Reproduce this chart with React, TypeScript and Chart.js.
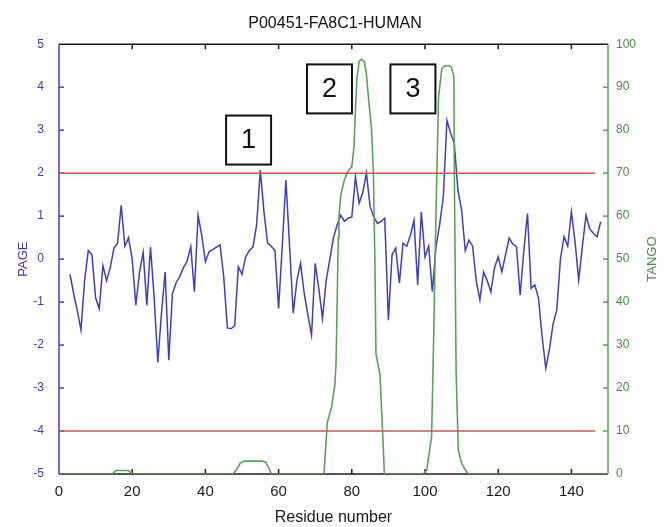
import React, { useEffect, useRef } from "react";
import { Chart, registerables } from "chart.js";

Chart.register(...registerables);

// ---------- data ----------
const chartTitle = "P00451-FA8C1-HUMAN";
const xAxisTitle = "Residue number";
const leftAxisTitle = "PAGE";
const rightAxisTitle = "TANGO";

const pageResidues = [
  3, 4, 5, 6, 7, 8, 9, 10, 11, 12, 13, 14, 15, 16, 17, 18, 19, 20, 21, 22,
  23, 24, 25, 26, 27, 28, 29, 30, 31, 32, 33, 34, 35, 36, 37, 38, 39, 40, 41, 42,
  43, 44, 45, 46, 47, 48, 49, 50, 51, 52, 53, 54, 55, 56, 57, 58, 59, 60, 61, 62,
  63, 64, 65, 66, 67, 68, 69, 70, 71, 72, 73, 74, 75, 76, 77, 78, 79, 80, 81, 82,
  83, 84, 85, 86, 87, 88, 89, 90, 91, 92, 93, 94, 95, 96, 97, 98, 99, 100, 101, 102,
  103, 104, 105, 106, 107, 108, 109, 110, 111, 112, 113, 114, 115, 116, 117, 118, 119, 120, 121, 122,
  123, 124, 125, 126, 127, 128, 129, 130, 131, 132, 133, 134, 135, 136, 137, 138, 139, 140, 141, 142,
  143, 144, 145, 146, 147, 148,
];
const pageValues = [
  -0.35, -0.8, -1.2, -1.65, -0.5, 0.2, 0.1, -0.9, -1.15, -0.15, -0.5, -0.2, 0.25, 0.37, 1.25, 0.3, 0.5, 0.0, -1.07, -0.3,
  0.16, -1.07, 0.28, -0.9, -2.4, -1.26, -0.3, -2.35, -0.8, -0.55, -0.4, -0.2, -0.05, 0.29, -0.76, 1.02, 0.55, -0.06, 0.17, 0.22,
  0.28, 0.33, -0.4, -1.6, -1.62, -1.55, -0.18, -0.35, 0.05, 0.2, 0.28, 0.8, 2.07, 1.1, 0.37, 0.3, 0.2, -1.15, 0.3, 1.84,
  0.3, -1.26, -0.5, -0.1, -0.8, -1.3, -1.77, -0.1, -0.7, -1.38, -0.5, 0.0, 0.5, 0.8, 1.02, 0.88, 0.95, 0.98, 1.91, 1.3,
  1.55, 2.0, 1.22, 0.98, 0.83, 0.88, 0.95, -1.42, 0.1, 0.26, -0.56, 0.37, 0.3, 0.55, 0.9, -0.6, 1.1, 0.05, 0.3, -0.76,
  0.29, 0.8, 1.45, 3.23, 2.93, 2.7, 1.6, 1.14, 0.2, 0.44, 0.3, -0.5, -0.95, -0.3, -0.5, -0.76, -0.2, 0.05, -0.3, 0.1,
  0.49, 0.35, 0.29, -0.84, 0.2, 1.06, -0.68, -0.6, -0.9, -1.8, -2.54, -2.1, -1.5, -1.19, 0.0, 0.52, 0.3, 1.1, 0.4, -0.49,
  0.3, 1.02, 0.7, 0.6, 0.52, 0.87,
];

const tangoResidues = [
  0, 14.5, 15.5, 19, 20,
  47.5, 48.5, 49.5, 50.5, 55.5, 56.5, 57.3, 58,
  72.4, 73.3, 74.5, 75.4, 75.7, 76, 76.3, 76.5, 77, 78,
  79, 80, 80.6, 81, 81.4, 82, 82.6, 83.4, 84, 84.5,
  85.4, 85.9, 86.3, 86.6, 87.7, 88.4, 88.9,
  99.5, 100.5, 101.8, 102.3, 102.8, 103.2, 103.7, 104.6, 105.5, 106.5,
  107.2, 107.9, 108, 108.2, 108.5, 109.1, 110, 111, 111.8, 150,
];
const tangoValues = [
  0, 0, 0.8, 0.8, 0,
  0, 1, 2.5, 3, 3, 2.7, 1.5, 0,
  0, 12, 15.6, 21, 26, 40, 55, 60, 65, 68.5,
  70.5, 71.5, 76, 85, 92, 96, 96.5, 96, 93, 88,
  80, 70, 50, 28, 23, 10, 0,
  0, 1, 8.7, 28.8, 52, 68.4, 87.7, 94.3, 95, 95,
  94.7, 92.4, 72, 52, 24, 5.6, 2.5, 1, 0, 0,
];

const thresholdValues = [2, -4];
const thresholdResidues = [0, 146.5];

const regionLabels = ["1", "2", "3"];
const regionLabelResidues = [51.8, 73.9, 96.7];
const regionLabelPage = [2.77, 3.96, 3.96];

// ---------- styles ----------
const FONT = "'Liberation Sans', Arial, Helvetica, sans-serif";
const BLUE = "rgb(62,62,196)";
const BLUE_TEXT = "rgb(60,60,185)";
const GREEN = "rgb(86,164,86)";
const GREEN_TEXT = "rgb(70,145,70)";
const RED = "rgb(214,86,76)";
const BLACK = "#1a1a1a";

const overlayPlugin = {
  id: "matlabOverlay",
  beforeDatasetsDraw(chart: any) {
    const { ctx, chartArea, scales } = chart;
    const { left, right, top, bottom } = chartArea;
    const tick = 5;
    ctx.save();
    ctx.lineWidth = 1.5;
    const seg = (x1: number, y1: number, x2: number, y2: number) => {
      ctx.beginPath();
      ctx.moveTo(x1, y1);
      ctx.lineTo(x2, y2);
      ctx.stroke();
    };
    // top & bottom (black) with inward ticks
    ctx.strokeStyle = BLACK;
    seg(left, top, right, top);
    seg(left, bottom, right, bottom);
    scales.x.ticks.forEach((t: any) => {
      const px = scales.x.getPixelForValue(t.value);
      if (px <= left + 1 || px >= right - 1) return;
      seg(px, bottom, px, bottom - tick);
      seg(px, top, px, top + tick);
    });
    // left (blue)
    ctx.strokeStyle = BLUE;
    seg(left, top, left, bottom);
    scales.y.ticks.forEach((t: any) => {
      const py = scales.y.getPixelForValue(t.value);
      if (py <= top + 1 || py >= bottom - 1) return;
      seg(left, py, left + tick, py);
    });
    // right (green)
    ctx.strokeStyle = GREEN;
    seg(right, top, right, bottom);
    scales.y1.ticks.forEach((t: any) => {
      const py = scales.y1.getPixelForValue(t.value);
      if (py <= top + 1 || py >= bottom - 1) return;
      seg(right, py, right - tick, py);
    });
    ctx.restore();
  },
  afterDatasetsDraw(chart: any) {
    const { ctx, scales } = chart;
    ctx.save();
    // region boxes
    const w = 45;
    const h = 49;
    regionLabels.forEach((label, i) => {
      const cx = scales.x.getPixelForValue(regionLabelResidues[i]);
      const cy = scales.y.getPixelForValue(regionLabelPage[i]);
      ctx.fillStyle = "#ffffff";
      ctx.fillRect(cx - w / 2, cy - h / 2, w, h);
      ctx.lineWidth = 2;
      ctx.strokeStyle = "#111111";
      ctx.strokeRect(cx - w / 2, cy - h / 2, w, h);
      ctx.fillStyle = "#111111";
      ctx.font = `27px ${FONT}`;
      ctx.textAlign = "center";
      ctx.textBaseline = "middle";
      ctx.fillText(label, cx, cy + 1);
    });
    // right axis title, reading bottom-to-top
    const area = chart.chartArea;
    ctx.translate(652, (area.top + area.bottom) / 2);
    ctx.rotate(-Math.PI / 2);
    ctx.fillStyle = GREEN_TEXT;
    ctx.font = `13px ${FONT}`;
    ctx.textAlign = "center";
    ctx.textBaseline = "middle";
    ctx.fillText(rightAxisTitle, 0, 0);
    ctx.restore();
  },
};

export default function App() {
  const canvasRef = useRef<HTMLCanvasElement | null>(null);

  useEffect(() => {
    const canvas = canvasRef.current;
    if (!canvas) return;

    const pagePoints = pageResidues.map((r, i) => ({ x: r, y: pageValues[i] }));
    const tangoPoints = tangoResidues.map((r, i) => ({ x: r, y: tangoValues[i] }));
    const thresholdSets = thresholdValues.map((v) => ({
      label: `threshold ${v}`,
      data: thresholdResidues.map((r) => ({ x: r, y: v })),
      yAxisID: "y",
      borderColor: RED,
      borderWidth: 1.5,
      pointRadius: 0,
      fill: false,
    }));

    const chart = new Chart(canvas, {
      type: "line",
      data: {
        datasets: [
          ...thresholdSets,
          {
            label: "TANGO",
            data: tangoPoints,
            yAxisID: "y1",
            borderColor: GREEN,
            borderWidth: 1.6,
            pointRadius: 0,
            tension: 0,
            fill: false,
          },
          {
            label: "PAGE",
            data: pagePoints,
            yAxisID: "y",
            borderColor: BLUE,
            borderWidth: 1.5,
            pointRadius: 0,
            tension: 0,
            fill: false,
          },
        ] as any,
      },
      options: {
        responsive: false,
        animation: false,
        parsing: false as any,
        layout: { padding: 0 },
        plugins: {
          legend: { display: false },
          tooltip: { enabled: false },
          title: {
            display: true,
            text: chartTitle,
            color: "#111111",
            font: { family: FONT, size: 16, weight: "normal" as any },
            padding: { top: 14, bottom: 11 },
          },
        },
        scales: {
          x: {
            type: "linear",
            min: 0,
            max: 150,
            border: { display: false },
            grid: { display: false, drawTicks: false },
            ticks: {
              stepSize: 20,
              includeBounds: false,
              color: BLACK,
              font: { family: FONT, size: 15 },
              padding: 9,
              maxRotation: 0,
            },
            title: {
              display: true,
              text: xAxisTitle,
              color: BLACK,
              font: { family: FONT, size: 16 },
              padding: { top: 0, bottom: 0 },
            },
            afterFit(scale: any) {
              scale.height = 53;
            },
          },
          y: {
            type: "linear",
            position: "left",
            min: -5,
            max: 5,
            border: { display: false },
            grid: { display: false, drawTicks: false },
            ticks: {
              stepSize: 1,
              color: BLUE_TEXT,
              font: { family: FONT, size: 12 },
              padding: 15,
            },
            title: {
              display: true,
              text: leftAxisTitle,
              color: BLUE_TEXT,
              font: { family: FONT, size: 13 },
              padding: { top: 16, bottom: 0 },
            },
            afterFit(scale: any) {
              scale.width = 59;
            },
          },
          y1: {
            type: "linear",
            position: "right",
            min: 0,
            max: 100,
            border: { display: false },
            grid: { display: false, drawTicks: false },
            ticks: {
              stepSize: 10,
              color: GREEN_TEXT,
              font: { family: FONT, size: 12 },
              padding: 8,
            },
            afterFit(scale: any) {
              scale.width = 62;
            },
          },
        } as any,
      },
      plugins: [overlayPlugin],
    });

    return () => {
      chart.destroy();
    };
  }, []);

  return (
    <div
      style={{
        position: "absolute",
        left: 0,
        top: 0,
        width: 670,
        height: 527,
        background: "#ffffff",
      }}
    >
      <canvas ref={canvasRef} width={670} height={527} style={{ display: "block" }} />
    </div>
  );
}
